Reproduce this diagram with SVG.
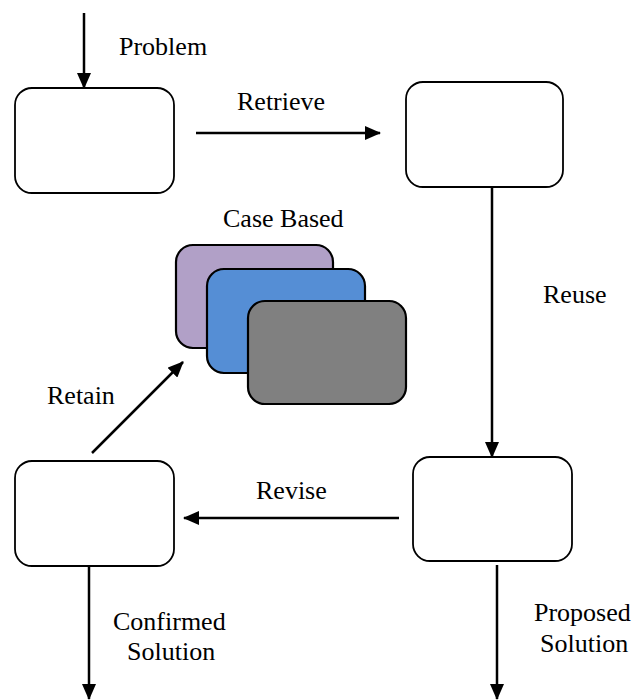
<svg xmlns="http://www.w3.org/2000/svg" width="633" height="700" viewBox="0 0 633 700">
<style>
.box{fill:#fff;stroke:#000;stroke-width:1.8}
.cb{stroke:#000;stroke-width:2.2}
.lbl{font-family:"Liberation Serif","Times New Roman",serif;font-size:26px;fill:#000}
.con{stroke:#000;stroke-width:2.5;fill:none;marker-end:url(#ah)}
</style>
<defs>
<marker id="ah" markerUnits="userSpaceOnUse" markerWidth="16" markerHeight="14" refX="15" refY="7" orient="auto">
<path d="M0,0 L16,7 L0,14 z" fill="#000"/>
</marker>
</defs>
<rect width="633" height="700" fill="#fff"/>
<g id="n1"><rect class="box" x="15" y="88" width="159" height="105" rx="17"/></g>
<g id="n2"><rect class="box" x="406" y="82" width="157" height="105" rx="17"/></g>
<g id="n3"><rect class="box" x="413" y="457" width="159" height="104" rx="17"/></g>
<g id="n4"><rect class="box" x="15" y="461" width="159" height="105" rx="17"/></g>
<g id="casebase">
<rect class="cb" x="176" y="245" width="157" height="103" rx="17" fill="#B1A0C7"/>
<rect class="cb" x="207" y="269" width="158" height="104" rx="17" fill="#558ED5"/>
<rect class="cb" x="248" y="301" width="158" height="103" rx="17" fill="#808080"/>
<text class="lbl" x="223" y="227">Case Based</text>
</g>
<g id="connectors">
<line class="con" x1="84" y1="13" x2="84" y2="88"/>
<line class="con" x1="196" y1="133" x2="380" y2="133"/>
<line class="con" x1="492" y1="187" x2="492" y2="457"/>
<line class="con" x1="399" y1="518" x2="184" y2="518"/>
<line class="con" x1="92" y1="453" x2="183" y2="362"/>
<line class="con" x1="89" y1="566" x2="89" y2="699"/>
<line class="con" x1="497" y1="565" x2="497" y2="699"/>
</g>
<g id="labels">
<text class="lbl" x="119" y="55">Problem</text>
<text class="lbl" x="237" y="110">Retrieve</text>
<text class="lbl" x="543" y="303">Reuse</text>
<text class="lbl" x="256" y="499">Revise</text>
<text class="lbl" x="47" y="404">Retain</text>
<text class="lbl" x="113" y="630">Confirmed</text>
<text class="lbl" x="127" y="660">Solution</text>
<text class="lbl" x="534" y="621">Proposed</text>
<text class="lbl" x="540" y="652">Solution</text>
</g>
</svg>
